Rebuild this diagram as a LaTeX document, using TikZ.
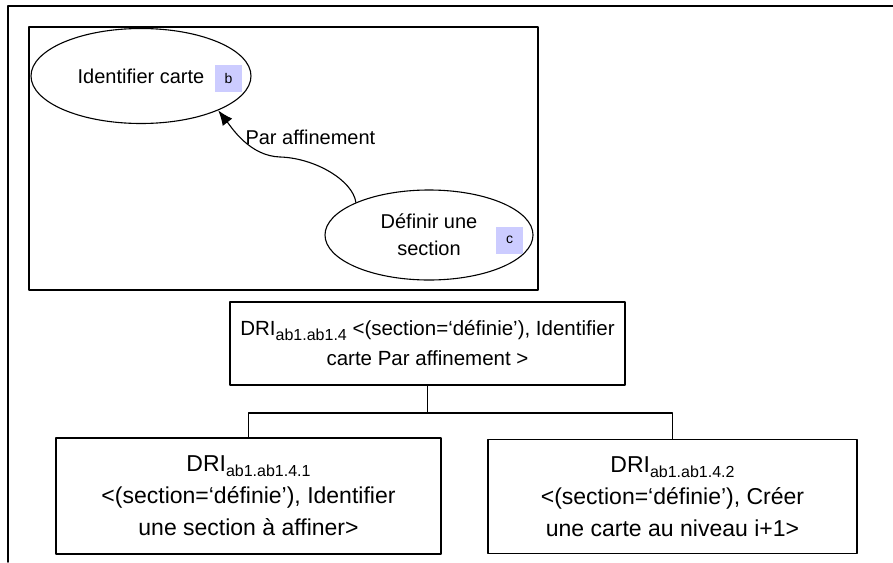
\documentclass[tikz,border=0pt]{standalone}
\usepackage{fontspec}
\setmainfont{Liberation Sans}
\usetikzlibrary{shapes.geometric,arrows.meta}
\definecolor{tagblue}{RGB}{204,204,255}
\begin{document}
\begin{tikzpicture}[x=1pt,y=-1pt,line join=round,line cap=round,
	oval/.style={ellipse,draw,line width=1.1pt,inner sep=0pt,align=center,font=\fontsize{20}{27}\selectfont},
	tagbox/.style={fill=tagblue,minimum size=27pt,inner sep=0pt,font=\fontsize{14}{14}\selectfont},
	drinode/.style={draw,line width=1.3pt,align=center,inner sep=0pt,font=\fontsize{23}{32}\selectfont},
	frame/.style={line width=1.6pt},
	flow/.style={line width=1.1pt,-{Latex[length=15pt,width=12pt]}}]
	\def\drisub#1{\raisebox{-5pt}{\fontsize{16}{16}\selectfont #1}}
	\useasboundingbox (0,0) rectangle (893,562);
	% cadres
	\draw[frame] (893,6) -- (8,6) -- (8,562);
	\draw[frame] (29,27) rectangle (538,290);
	% graphe des buts
	\node[oval,minimum width=220pt,minimum height=95pt] (ident) at (141,76) {Identifier carte};
	\node[tagbox] (tagb) at (228.5,78.5) {b};
	\node[oval,minimum width=208pt,minimum height=90pt] (defsec) at (429,235) {D\'efinir une\\section};
	\node[tagbox] (tagc) at (509.5,240) {c};
	\coordinate (bend) at (280,157);
	\draw[flow] (defsec.156) .. controls +(-3,-22) and +(35,1) .. (bend)
		.. controls +(-30,-1) and +(14,18) .. (ident.-24);
	\node[anchor=west,font=\fontsize{20}{20}\selectfont] (par) at (242,137) {Par affinement};
	% arbre des DRI
	\node[drinode,minimum width=395pt,minimum height=83pt,font=\fontsize{20.5}{30}\selectfont] (dri4) at (427.5,343.5)
		{DRI\drisub{ab1.ab1.4} <(section=`d\'efinie'), Identifier\\carte Par affinement >};
	\node[drinode,minimum width=385pt,minimum height=116pt] (dri41) at (248.5,496)
		{DRI\drisub{ab1.ab1.4.1}\\<(section=`d\'efinie'), Identifier\\une section \`a affiner>};
	\node[drinode,minimum width=369pt,minimum height=114pt] (dri42) at (672.5,496.5)
		{DRI\drisub{ab1.ab1.4.2}\\<(section=`d\'efinie'), Cr\'eer\\une carte au niveau i+1>};
	\coordinate (fork) at (427.5,413);
	\draw[line width=1.3pt] (dri4.south) -- (fork);
	\draw[line width=1.3pt] (dri41.north) |- (fork) -| (dri42.north);
\end{tikzpicture}
\end{document}
